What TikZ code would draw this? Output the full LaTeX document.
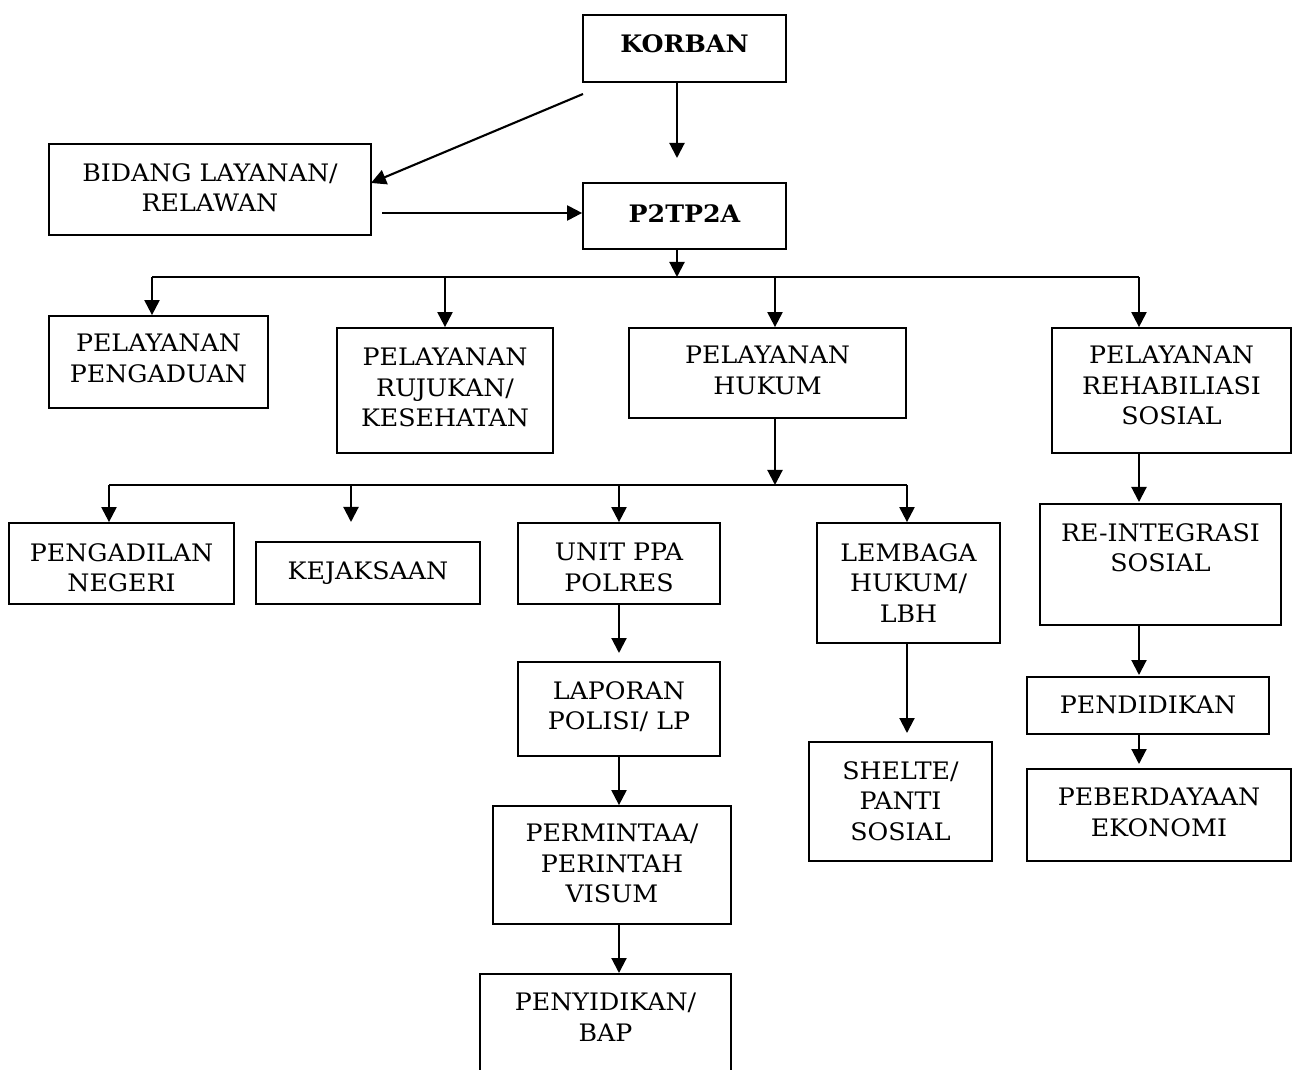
\documentclass[tikz,border=0pt]{standalone}
\usepackage{fontspec}
\setmainfont{DejaVu Serif}[FakeStretch=1.05]
\usetikzlibrary{arrows.meta,fit}
\begin{document}
\begin{tikzpicture}[x=0.02cm,y=-0.02cm,
  box/.style={draw, line width=1pt, inner sep=0pt},
  txt/.style={inner sep=0pt, align=center, anchor=north, font=\fontsize{13.7}{17.3}\selectfont},
  ln/.style={line width=1.2pt},
  arr/.style={line width=1.2pt, -{Triangle[length=0.3cm,width=0.3cm]}}]
\clip (0,0) rectangle (1295,1070);
\useasboundingbox (0,0) rectangle (1295,1070);

% boxes
\node[box, fit={(583,15)(786,82)}] (korban) {};
\node[box, fit={(49,144)(371,235)}] (bidang) {};
\node[box, fit={(583,183)(786,249)}] (p2) {};
\node[box, fit={(49,316)(268,408)}] (pengaduan) {};
\node[box, fit={(337,328)(553,453)}] (rujukan) {};
\node[box, fit={(629,328)(906,418)}] (hukum) {};
\node[box, fit={(1052,328)(1291,453)}] (rehab) {};
\node[box, fit={(9,523)(234,604)}] (pengadilan) {};
\node[box, fit={(256,542)(480,604)}] (kejaksaan) {};
\node[box, fit={(518,523)(720,604)}] (unit) {};
\node[box, fit={(817,523)(1000,643)}] (lembaga) {};
\node[box, fit={(1040,504)(1281,625)}] (reint) {};
\node[box, fit={(1027,677)(1269,734)}] (pendidikan) {};
\node[box, fit={(1027,769)(1291,861)}] (peberdayaan) {};
\node[box, fit={(809,742)(992,861)}] (shelte) {};
\node[box, fit={(518,662)(720,756)}] (laporan) {};
\node[box, fit={(493,806)(731,924)}] (permintaa) {};
\node[box, fit={(480,974)(731,1100)}] (penyidikan) {};

% texts
\node[txt] (t1) at (684.5,34) {\bfseries KORBAN};
\node[txt] (t2) at (210,163) {BIDANG LAYANAN/\\RELAWAN};
\node[txt] (t3) at (684.5,204) {\bfseries P2TP2A};
\node[txt] (t4) at (158.5,334) {PELAYANAN\\PENGADUAN};
\node[txt] (t5) at (445,348) {PELAYANAN\\RUJUKAN/\\KESEHATAN};
\node[txt] (t6) at (767.5,346) {PELAYANAN\\HUKUM};
\node[txt] (t7) at (1171.5,346) {PELAYANAN\\REHABILIASI\\SOSIAL};
\node[txt] (t8) at (121.5,543) {PENGADILAN\\NEGERI};
\node[txt] (t9) at (368,561) {KEJAKSAAN};
\node[txt] (t10) at (619,543) {UNIT PPA\\POLRES};
\node[txt] (t11) at (908.5,543) {LEMBAGA\\HUKUM/\\LBH};
\node[txt] (t12) at (1160.5,523) {RE-INTEGRASI\\SOSIAL};
\node[txt] (t13) at (1148,696) {PENDIDIKAN};
\node[txt] (t14) at (1159,788) {PEBERDAYAAN\\EKONOMI};
\node[txt] (t15) at (900.5,761) {SHELTE/\\PANTI\\SOSIAL};
\node[txt] (t16) at (619,681) {LAPORAN\\POLISI/ LP};
\node[txt] (t17) at (612,824) {PERMINTAA/\\PERINTAH\\VISUM};
\node[txt] (t18) at (605.5,993) {PENYIDIKAN/\\BAP};

% top connectors
\coordinate (kx) at (677,158);
\draw[arr] (korban.south -| kx) -- (kx);
\coordinate (dS) at (583,94);
\coordinate (dE) at (371,183);
\draw[arr] (dS) -- (dE);
\coordinate (hS) at (382,213);
\draw[arr] (hS) -- (hS -| p2.west);

% first bus
\coordinate (b1m) at (677,277);
\coordinate (b1L) at (152,277);
\coordinate (b1R) at (1139,277);
\coordinate (b1a) at (445,277);
\coordinate (b1b) at (775,277);
\draw[arr] (p2.south -| b1m) -- (b1m);
\draw[ln] (b1L) -- (b1R);
\draw[arr] (b1L) -- (b1L |- pengaduan.north);
\draw[arr] (b1a) -- (b1a |- rujukan.north);
\draw[arr] (b1b) -- (b1b |- hukum.north);
\draw[arr] (b1R) -- (b1R |- rehab.north);

% second bus
\coordinate (b2m) at (775,485);
\coordinate (b2L) at (109,485);
\coordinate (b2R) at (907,485);
\coordinate (b2a) at (351,485);
\coordinate (b2b) at (619,485);
\coordinate (kej) at (351,522);
\draw[arr] (hukum.south -| b2m) -- (b2m);
\draw[ln] (b2L) -- (b2R);
\draw[arr] (b2L) -- (b2L |- pengadilan.north);
\draw[arr] (b2a) -- (kej);
\draw[arr] (b2b) -- (b2b |- unit.north);
\draw[arr] (b2R) -- (b2R |- lembaga.north);

% police chain
\coordinate (u1) at (619,653);
\draw[arr] (unit.south -| u1) -- (u1);
\draw[arr] (laporan.south -| u1) -- (u1 |- permintaa.north);
\coordinate (u3) at (619,973);
\draw[arr] (permintaa.south -| u1) -- (u3);

% lembaga
\coordinate (l1) at (907,733);
\draw[arr] (lembaga.south -| l1) -- (l1);

% rehab chain
\coordinate (r1) at (1139,502);
\draw[arr] (rehab.south -| r1) -- (r1);
\coordinate (r2) at (1139,675);
\draw[arr] (reint.south -| r1) -- (r2);
\coordinate (r3) at (1139,764);
\draw[arr] (pendidikan.south -| r1) -- (r3);
\end{tikzpicture}
\end{document}
